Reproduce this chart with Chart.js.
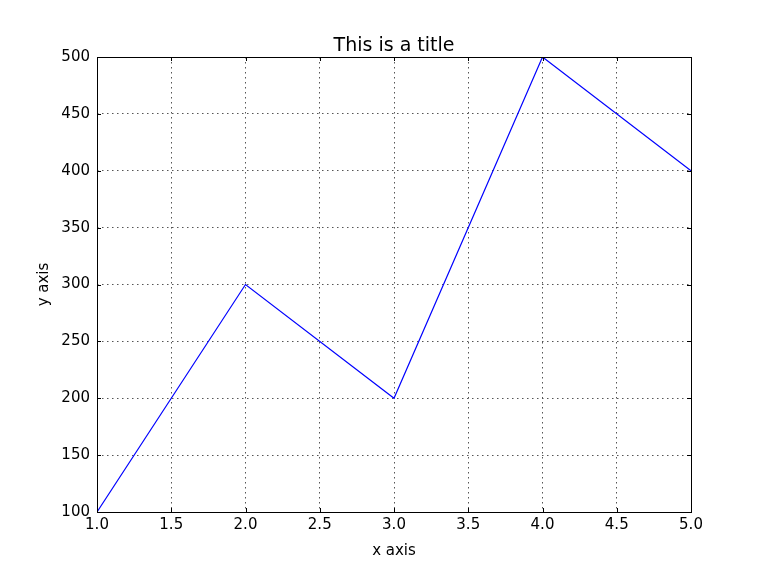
<!DOCTYPE html>
<html>
<head>
<meta charset="utf-8">
<script src="https://cdn.jsdelivr.net/npm/chart.js@4.4.0/dist/chart.umd.min.js"></script>
<style>
  html, body { margin: 0; padding: 0; background: #fff; }
  #wrap { width: 768px; height: 569px; }
</style>
</head>
<body>
<div id="wrap"><canvas id="lineChart"></canvas></div>
<script>
const xValues = [1, 2, 3, 4, 5];
const yValues = [100, 300, 200, 500, 400];
const xTicks = [1.0, 1.5, 2.0, 2.5, 3.0, 3.5, 4.0, 4.5, 5.0];
const yTicks = [100, 150, 200, 250, 300, 350, 400, 450, 500];
const chartTitle = 'This is a title';

const font = 'DejaVu Sans';

// matplotlib-like frame with inward ticks on all four sides, title centred over the axes
const framePlugin = {
    id: 'frame',
    afterDatasetsDraw(chart) {
        const { ctx, chartArea: a, scales } = chart;
        ctx.save();
        ctx.strokeStyle = '#000';
        ctx.lineWidth = 1;
        ctx.beginPath();
        xTicks.forEach(function (v) {
            const px = Math.round(scales.x.getPixelForValue(v)) + 0.5;
            ctx.moveTo(px, a.bottom); ctx.lineTo(px, a.bottom - 4);
            ctx.moveTo(px, a.top); ctx.lineTo(px, a.top + 4);
        });
        yTicks.forEach(function (v) {
            const py = Math.round(scales.y.getPixelForValue(v)) + 0.5;
            ctx.moveTo(a.left, py); ctx.lineTo(a.left + 4, py);
            ctx.moveTo(a.right, py); ctx.lineTo(a.right - 4, py);
        });
        ctx.stroke();
        ctx.strokeRect(Math.round(a.left) + 0.5, Math.round(a.top) + 0.5,
            Math.round(a.right - a.left), Math.round(a.bottom - a.top));

        ctx.fillStyle = '#000';
        ctx.font = '19px "' + font + '"';
        ctx.textAlign = 'center';
        ctx.textBaseline = 'alphabetic';
        ctx.fillText(chartTitle, (a.left + a.right) / 2, a.top - 6);
        ctx.restore();
    }
};

document.addEventListener("DOMContentLoaded", function () {
    var ctx = document.getElementById("lineChart");

    new Chart(ctx, {
        type: 'line',
        data: {
            datasets: [{
                data: xValues.map((x, i) => ({ x: x, y: yValues[i] })),
                borderColor: '#0000ff',
                borderWidth: 1.2,
                pointRadius: 0,
                tension: 0,
                fill: false
            }]
        },
        options: {
            responsive: true,
            maintainAspectRatio: false,
            animation: false,
            layout: { padding: { left: 0, right: 77, top: 57, bottom: 0 } },
            plugins: {
                legend: { display: false },
                tooltip: { enabled: false },
                title: { display: false }
            },
            scales: {
                x: {
                    type: 'linear',
                    min: 1, max: 5,
                    afterBuildTicks: function (axis) {
                        axis.ticks = xTicks.map(v => ({ value: v }));
                    },
                    afterFit: function (axis) { axis.height = 569 - 512; },
                    grid: {
                        color: '#555',
                        lineWidth: 1,
                        drawTicks: false
                    },
                    border: { display: false, dash: [1.5, 3.5] },
                    ticks: {
                        color: '#000',
                        padding: 4,
                        maxRotation: 0,
                        font: { family: font, size: 15 },
                        callback: v => Number(v).toFixed(1)
                    },
                    title: {
                        display: true,
                        text: 'x axis',
                        color: '#000',
                        font: { family: font, size: 15 },
                        padding: { top: 4, bottom: 9 }
                    }
                },
                y: {
                    type: 'linear',
                    min: 100, max: 500,
                    afterBuildTicks: function (axis) {
                        axis.ticks = yTicks.map(v => ({ value: v }));
                    },
                    afterFit: function (axis) { axis.width = 97; },
                    grid: {
                        color: '#555',
                        lineWidth: 1,
                        drawTicks: false
                    },
                    border: { display: false, dash: [1.5, 3.5] },
                    ticks: {
                        color: '#000',
                        padding: 7,
                        font: { family: font, size: 15 }
                    },
                    title: {
                        display: true,
                        text: 'y axis',
                        color: '#000',
                        font: { family: font, size: 15 },
                        padding: { top: 35, bottom: 4 }
                    }
                }
            }
        },
        plugins: [framePlugin]
    });
});
</script>
</body>
</html>
